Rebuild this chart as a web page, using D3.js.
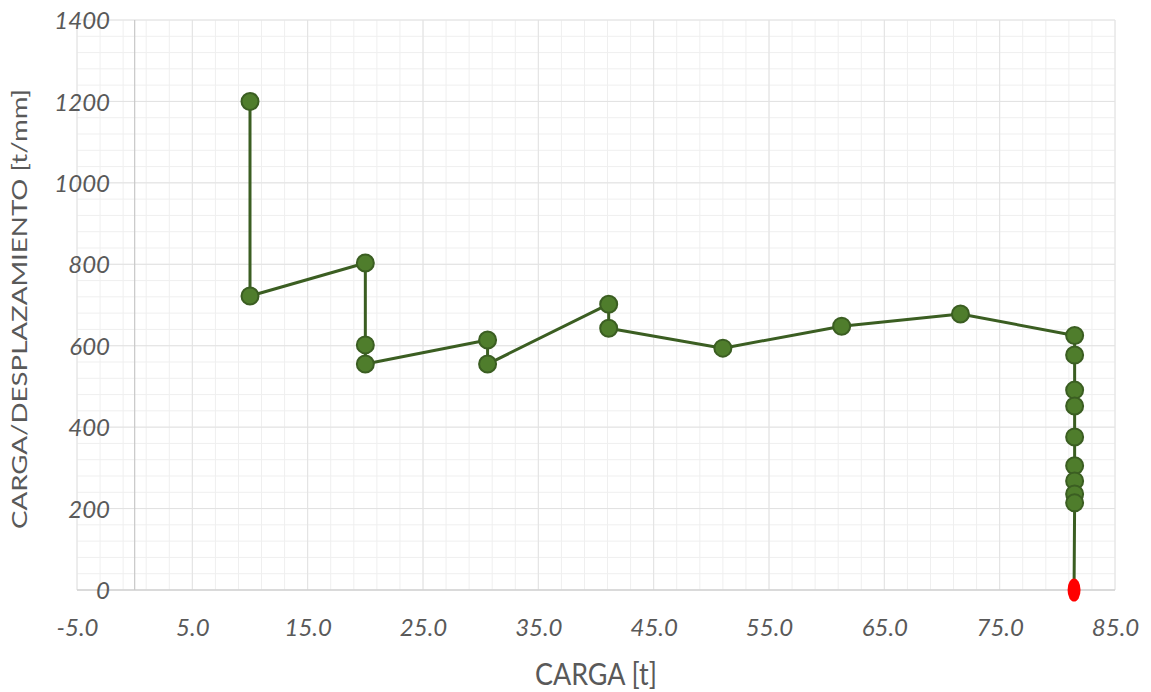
<!DOCTYPE html>
<html>
<head>
<meta charset="utf-8">
<script src="https://cdn.jsdelivr.net/npm/d3@7"></script>
<style>
  html, body { margin: 0; padding: 0; background: #fff; }
  svg { display: block; }
</style>
</head>
<body>
<svg id="chart" width="1151" height="692"></svg>
<script>
// Load (t) and load/displacement ratio (t/mm) readings of the test
const carga = [10.0, 10.0, 20.0, 20.0, 20.0, 30.6, 30.6, 41.1, 41.1, 51.0, 61.3, 71.6,
               81.5, 81.5, 81.5, 81.5, 81.5, 81.5, 81.5, 81.5, 81.5];
const rigidez = [1200, 722, 803, 602, 555, 614, 555, 702, 643, 594, 648, 678,
                 625, 577, 491, 452, 376, 305, 268, 236, 214];
// Final reading (failure point)
const cargaFinal = [81.45];
const rigidezFinal = [0];

const xTicks = [-5, 5, 15, 25, 35, 45, 55, 65, 75, 85];
const yTicks = [0, 200, 400, 600, 800, 1000, 1200, 1400];

(function () {
const svg = d3.select("#chart");
const mLeft = 77, mRight = 1115, mTop = 20, mBottom = 590;

const x = d3.scaleLinear().domain([-5, 85]).range([mLeft, mRight]);
const y = d3.scaleLinear().domain([0, 1400]).range([mBottom, mTop]);

// minor grid
const minorX = d3.range(-5, 85.01, 2);
const minorY = d3.range(0, 1400.01, 40);
const grid = svg.append("g");
grid.selectAll(".mx").data(minorX).join("line")
  .attr("x1", d => x(d)).attr("x2", d => x(d))
  .attr("y1", mTop).attr("y2", mBottom)
  .attr("stroke", "#efefef").attr("stroke-width", 1);
grid.selectAll(".my").data(minorY).join("line")
  .attr("x1", mLeft).attr("x2", mRight)
  .attr("y1", d => y(d)).attr("y2", d => y(d))
  .attr("stroke", "#efefef").attr("stroke-width", 1);
// major grid
grid.selectAll(".Mx").data(xTicks).join("line")
  .attr("x1", d => x(d)).attr("x2", d => x(d))
  .attr("y1", mTop).attr("y2", mBottom)
  .attr("stroke", "#e2e2e2").attr("stroke-width", 1);
grid.selectAll(".My").data(yTicks).join("line")
  .attr("x1", mLeft).attr("x2", mRight)
  .attr("y1", d => y(d)).attr("y2", d => y(d))
  .attr("stroke", "#e2e2e2").attr("stroke-width", 1);

// axis lines through the origin
svg.append("line")
  .attr("x1", x(0)).attr("x2", x(0)).attr("y1", mTop).attr("y2", mBottom)
  .attr("stroke", "#c8c8c8").attr("stroke-width", 1.2);
svg.append("line")
  .attr("x1", mLeft).attr("x2", mRight).attr("y1", y(0)).attr("y2", y(0))
  .attr("stroke", "#c8c8c8").attr("stroke-width", 1.2);

// tick labels
const font = "Lato, 'Open Sans', sans-serif";
const yAxis = d3.axisLeft(y).tickValues(yTicks).tickSize(0).tickPadding(0).tickFormat(d => String(d));
const gy = svg.append("g").attr("transform", "translate(110,0)").call(yAxis);
gy.select(".domain").remove();
gy.selectAll("text")
  .attr("font-family", font).attr("font-style", "italic")
  .attr("font-size", 24).attr("fill", "#595959").attr("dy", "0.36em");

const xAxis = d3.axisBottom(x).tickValues(xTicks).tickSize(0).tickPadding(0).tickFormat(d => d.toFixed(1));
const gx = svg.append("g").attr("transform", "translate(0,627)").call(xAxis);
gx.select(".domain").remove();
gx.selectAll("text")
  .attr("font-family", font).attr("font-style", "italic")
  .attr("font-size", 24).attr("fill", "#595959").attr("dy", "0.36em");

// axis titles
svg.append("text")
  .attr("x", 596).attr("y", 685)
  .attr("text-anchor", "middle")
  .attr("font-family", font).attr("font-size", 30).attr("fill", "#595959")
  .attr("textLength", 122).attr("lengthAdjust", "spacingAndGlyphs")
  .text("CARGA [t]");
svg.append("text")
  .attr("transform", "translate(27,309) rotate(-90)")
  .attr("text-anchor", "middle")
  .attr("font-family", font).attr("font-size", 21).attr("fill", "#595959")
  .attr("textLength", 440).attr("lengthAdjust", "spacingAndGlyphs")
  .text("CARGA/DESPLAZAMIENTO [t/mm]");

// series
const pts = carga.map((c, i) => [c, rigidez[i]]);
const fin = cargaFinal.map((c, i) => [c, rigidezFinal[i]]);
const line = d3.line().x(d => x(d[0])).y(d => y(d[1]));
svg.append("path")
  .datum(pts.concat(fin))
  .attr("d", line)
  .attr("fill", "none").attr("stroke", "#3b5e22").attr("stroke-width", 3)
  .attr("stroke-linejoin", "round");

svg.append("g").selectAll("circle").data(pts).join("circle")
  .attr("cx", d => x(d[0])).attr("cy", d => y(d[1])).attr("r", 8.5)
  .attr("fill", "#4f7d2c").attr("stroke", "#3b5e22").attr("stroke-width", 2);

svg.append("g").selectAll("ellipse").data(fin).join("ellipse")
  .attr("cx", d => x(d[0])).attr("cy", d => y(d[1])).attr("rx", 6.5).attr("ry", 11.5)
  .attr("fill", "#ff0000");
})();
</script>
</body>
</html>
